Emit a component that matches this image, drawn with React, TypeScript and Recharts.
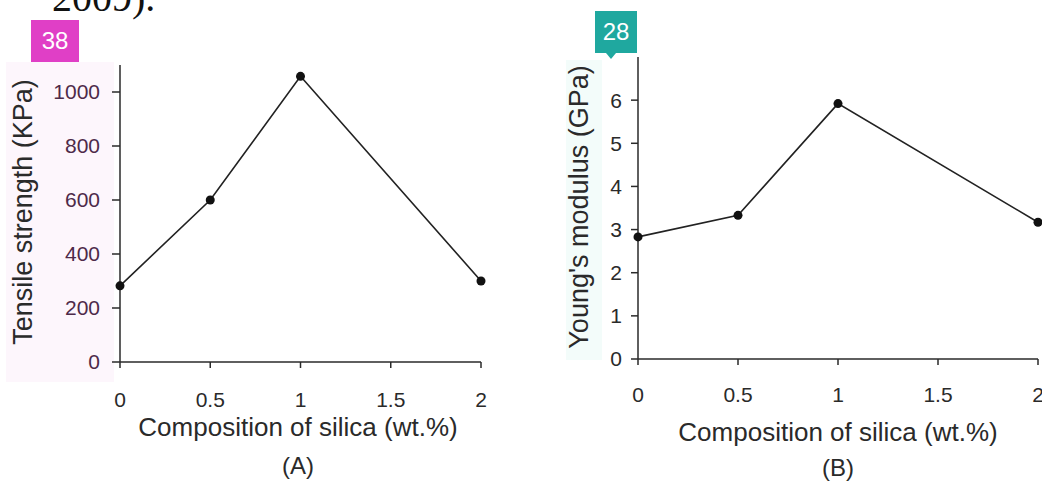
import React from "react";
import { LineChart, Line, XAxis, YAxis, Label } from "recharts";

// silica content (wt.%) shared by both panels
const silica = [0, 0.5, 1, 2];
const tensileKPa = [282, 600, 1058, 300];
const youngsGPa = [2.83, 3.33, 5.92, 3.17];

const xTicks = [0, 0.5, 1, 1.5, 2];
const tensileTicks = [0, 200, 400, 600, 800, 1000];
const youngsTicks = [0, 1, 2, 3, 4, 5, 6];

const dataA = silica.map((x, i) => ({ x, v: tensileKPa[i] }));
const dataB = silica.map((x, i) => ({ x, v: youngsGPa[i] }));

const FONT = "'Liberation Sans', Arial, Helvetica, sans-serif";
const INK = "#2a2a2a";

const xLabel = (axisY: number, cx: number, tag: string, d1: number, d2: number) => () => (
  <g>
    <text x={cx} y={axisY + d1} textAnchor="middle" fontSize={26} fill={INK} fontFamily={FONT}>
      Composition of silica (wt.%)
    </text>
    <text x={cx} y={axisY + d2} textAnchor="middle" fontSize={24} fill={INK} fontFamily={FONT}>
      {tag}
    </text>
  </g>
);

const yLabel = (x: number, cy: number, text: string) => () => (
  <text
    x={x}
    y={cy}
    transform={`rotate(-90, ${x}, ${cy})`}
    textAnchor="middle"
    fontSize={27}
    fill={INK}
    fontFamily={FONT}
  >
    {text}
  </text>
);

export default function App() {
  return (
    <div
      style={{
        position: "absolute",
        left: 0,
        top: 0,
        width: 1042,
        height: 481,
        overflow: "hidden",
        background: "#fff",
        fontFamily: FONT,
      }}
    >
      {/* faint highlight behind the y titles */}
      <div style={{ position: "absolute", left: 6, top: 62, width: 108, height: 320, background: "#fdf6fc" }} />
      <div style={{ position: "absolute", left: 566, top: 60, width: 36, height: 300, background: "#f3fcfa" }} />

      <div
        style={{
          position: "absolute",
          left: 52,
          top: -22,
          fontFamily: "'Liberation Serif', 'Times New Roman', serif",
          fontSize: 40,
          color: "#111",
          lineHeight: "40px",
        }}
      >
        2009).
      </div>

      <div style={{ position: "absolute", left: 0, top: 0 }}>
        <LineChart width={520} height={481} data={dataA} margin={{ top: 65, right: 39, left: 5, bottom: 0 }}>
          <XAxis
            dataKey="x"
            type="number"
            domain={[0, 2]}
            ticks={xTicks}
            interval={0}
            height={119}
            tickSize={6}
            tickMargin={24}
            stroke={INK}
            strokeWidth={1.5}
            tick={{ fill: INK, fontSize: 21, fontFamily: FONT }}
          >
            <Label content={xLabel(362, 298, "(A)", 74, 112)} />
          </XAxis>
          <YAxis
            type="number"
            domain={[0, 1100]}
            ticks={tensileTicks}
            interval={0}
            width={115}
            tickSize={8}
            tickMargin={12}
            stroke={INK}
            strokeWidth={1.5}
            tick={{ fill: "#4e2a49", fontSize: 21, fontFamily: FONT }}
          >
            <Label content={yLabel(32, 212, "Tensile strength (KPa)")} />
          </YAxis>
          <Line
            dataKey="v"
            type="linear"
            stroke="#222"
            strokeWidth={1.6}
            dot={{ r: 4.5, fill: "#111", stroke: "#111", strokeWidth: 0 }}
            isAnimationActive={false}
          />
        </LineChart>
      </div>

      <div style={{ position: "absolute", left: 520, top: 0 }}>
        <LineChart width={522} height={481} data={dataB} margin={{ top: 57, right: 4, left: 5, bottom: 0 }}>
          <XAxis
            dataKey="x"
            type="number"
            domain={[0, 2]}
            ticks={xTicks}
            interval={0}
            height={122}
            tickSize={6}
            tickMargin={22}
            stroke={INK}
            strokeWidth={1.5}
            tick={{ fill: INK, fontSize: 21, fontFamily: FONT }}
          >
            <Label content={xLabel(359, 318, "(B)", 82, 117)} />
          </XAxis>
          <YAxis
            type="number"
            domain={[0, 7]}
            ticks={youngsTicks}
            interval={0}
            width={113}
            tickSize={7}
            tickMargin={9}
            stroke={INK}
            strokeWidth={1.5}
            tick={{ fill: INK, fontSize: 21, fontFamily: FONT }}
          >
            <Label content={yLabel(68, 207, "Young's modulus (GPa)")} />
          </YAxis>
          <Line
            dataKey="v"
            type="linear"
            stroke="#222"
            strokeWidth={1.6}
            dot={{ r: 4.5, fill: "#111", stroke: "#111", strokeWidth: 0 }}
            isAnimationActive={false}
          />
        </LineChart>
      </div>

      {/* page badges */}
      <div
        style={{
          position: "absolute",
          left: 31,
          top: 20,
          width: 48,
          height: 42,
          background: "#e03fc6",
          color: "#fff",
          fontSize: 24,
          lineHeight: "42px",
          textAlign: "center",
        }}
      >
        38
      </div>
      <div
        style={{
          position: "absolute",
          left: 595,
          top: 11,
          width: 42,
          height: 42,
          background: "#1fa89f",
          color: "#fff",
          fontSize: 24,
          lineHeight: "42px",
          textAlign: "center",
        }}
      >
        28
      </div>
      <div
        style={{
          position: "absolute",
          left: 606,
          top: 53,
          width: 0,
          height: 0,
          borderLeft: "5px solid transparent",
          borderRight: "5px solid transparent",
          borderTop: "6px solid #1fa89f",
        }}
      />
    </div>
  );
}
